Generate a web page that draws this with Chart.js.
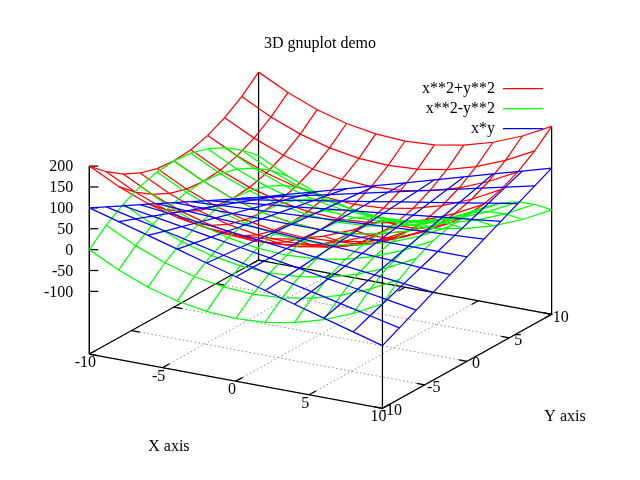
<!DOCTYPE html>
<html>
<head>
<meta charset="utf-8">
<script src="https://cdn.jsdelivr.net/npm/chart.js@4.4.1/dist/chart.umd.min.js"></script>
<style>
html,body{margin:0;padding:0;background:#ffffff;}
#wrap{width:640px;height:480px;position:relative;}
</style>
</head>
<body>
<div id="wrap"><canvas id="c" width="640" height="480"></canvas></div>
<script>
// ---- data ----
const xSamples = [-10, -8, -6, -4, -2, 0, 2, 4, 6, 8, 10];
const ySamples = [-10, -8, -6, -4, -2, 0, 2, 4, 6, 8, 10];
const seriesNames = ['x**2+y**2', 'x**2-y**2', 'x*y'];
const seriesColors = ['#ff0000', '#00ff00', '#0000ff'];
// rows: x sample index, columns: y sample index
const zSum = [
  [200,164,136,116,104,100,104,116,136,164,200],
  [164,128,100, 80, 68, 64, 68, 80,100,128,164],
  [136,100, 72, 52, 40, 36, 40, 52, 72,100,136],
  [116, 80, 52, 32, 20, 16, 20, 32, 52, 80,116],
  [104, 68, 40, 20,  8,  4,  8, 20, 40, 68,104],
  [100, 64, 36, 16,  4,  0,  4, 16, 36, 64,100],
  [104, 68, 40, 20,  8,  4,  8, 20, 40, 68,104],
  [116, 80, 52, 32, 20, 16, 20, 32, 52, 80,116],
  [136,100, 72, 52, 40, 36, 40, 52, 72,100,136],
  [164,128,100, 80, 68, 64, 68, 80,100,128,164],
  [200,164,136,116,104,100,104,116,136,164,200]
];
const zDiff = [
  [   0,  36,  64,  84,  96, 100,  96,  84,  64,  36,   0],
  [ -36,   0,  28,  48,  60,  64,  60,  48,  28,   0, -36],
  [ -64, -28,   0,  20,  32,  36,  32,  20,   0, -28, -64],
  [ -84, -48, -20,   0,  12,  16,  12,   0, -20, -48, -84],
  [ -96, -60, -32, -12,   0,   4,   0, -12, -32, -60, -96],
  [-100, -64, -36, -16,  -4,   0,  -4, -16, -36, -64,-100],
  [ -96, -60, -32, -12,   0,   4,   0, -12, -32, -60, -96],
  [ -84, -48, -20,   0,  12,  16,  12,   0, -20, -48, -84],
  [ -64, -28,   0,  20,  32,  36,  32,  20,   0, -28, -64],
  [ -36,   0,  28,  48,  60,  64,  60,  48,  28,   0, -36],
  [   0,  36,  64,  84,  96, 100,  96,  84,  64,  36,   0]
];
const zProd = [
  [ 100,  80,  60,  40,  20, 0, -20, -40, -60, -80,-100],
  [  80,  64,  48,  32,  16, 0, -16, -32, -48, -64, -80],
  [  60,  48,  36,  24,  12, 0, -12, -24, -36, -48, -60],
  [  40,  32,  24,  16,   8, 0,  -8, -16, -24, -32, -40],
  [  20,  16,  12,   8,   4, 0,  -4,  -8, -12, -16, -20],
  [   0,   0,   0,   0,   0, 0,   0,   0,   0,   0,   0],
  [ -20, -16, -12,  -8,  -4, 0,   4,   8,  12,  16,  20],
  [ -40, -32, -24, -16,  -8, 0,   8,  16,  24,  32,  40],
  [ -60, -48, -36, -24, -12, 0,  12,  24,  36,  48,  60],
  [ -80, -64, -48, -32, -16, 0,  16,  32,  48,  64,  80],
  [-100, -80, -60, -40, -20, 0,  20,  40,  60,  80, 100]
];
const xTicks = [-10, -5, 0, 5, 10];
const yTicks = [-10, -5, 0, 5, 10];
const zTicks = [-100, -50, 0, 50, 100, 150, 200];
const xRange = [-10, 10];
const yRange = [-10, 10];
const zRange = [-100, 200];
const titleText = '3D gnuplot demo';
const xLabelText = 'X axis';
const yLabelText = 'Y axis';

// ---- view (gnuplot: set view 60,30 ; ticslevel 0.5) ----
const viewRotX = 60, viewRotZ = 30, ticsLevel = 0.5;
const zBase = zRange[0] - ticsLevel * (zRange[1] - zRange[0]);
function proj(x, y, z) {
  const u = 2 * (x - xRange[0]) / (xRange[1] - xRange[0]) - 1;
  const v = 2 * (y - yRange[0]) / (yRange[1] - yRange[0]) - 1;
  const w = 2 * (z - zBase) / (zRange[1] - zBase) - 1;
  const rz = viewRotZ * Math.PI / 180, rx = viewRotX * Math.PI / 180;
  const X = Math.cos(rz) * u + Math.sin(rz) * v;
  const Yd = -Math.sin(rz) * u + Math.cos(rz) * v;
  const Y = Math.cos(rx) * Yd + Math.sin(rx) * w;
  return { x: X, y: Y };
}

const LW = 1.25;
const datasets = [];
function addLine(points, color, order, extra) {
  datasets.push(Object.assign({
    data: points, showLine: true, borderColor: color, backgroundColor: color,
    borderWidth: LW, pointRadius: 0, pointHoverRadius: 0, fill: false, tension: 0, order: order
  }, extra || {}));
}

// base grid (dotted)
xTicks.forEach(x => addLine([proj(x, yRange[0], zBase), proj(x, yRange[1], zBase)], '#8c8c8c', 6, { borderWidth: 1, borderDash: [1.5, 2.5] }));
yTicks.forEach(y => addLine([proj(xRange[0], y, zBase), proj(xRange[1], y, zBase)], '#8c8c8c', 6, { borderWidth: 1, borderDash: [1.5, 2.5] }));

// frame: base border
addLine([
  proj(xRange[0], yRange[0], zBase), proj(xRange[1], yRange[0], zBase),
  proj(xRange[1], yRange[1], zBase), proj(xRange[0], yRange[1], zBase),
  proj(xRange[0], yRange[0], zBase)
], '#000000', 5);
// z axis
addLine([proj(xRange[0], yRange[0], zBase), proj(xRange[0], yRange[0], zRange[1])], '#000000', 5);
// corner verticals up to the first surface
[[0, 0], [10, 0], [10, 10], [0, 10]].forEach(([i, j]) => {
  addLine([proj(xSamples[i], ySamples[j], zBase), proj(xSamples[i], ySamples[j], zSum[i][j])], '#000000', 5);
});
// ticks
const xTicLen = 0.8, yTicLen = 0.55, zTicLen = 0.053;
xTicks.forEach(x => {
  addLine([proj(x, yRange[0], zBase), proj(x, yRange[0] + xTicLen, zBase)], '#000000', 5);
  addLine([proj(x, yRange[1], zBase), proj(x, yRange[1] - xTicLen, zBase)], '#000000', 5);
});
yTicks.forEach(y => {
  addLine([proj(xRange[1], y, zBase), proj(xRange[1] - yTicLen, y, zBase)], '#000000', 5);
  addLine([proj(xRange[0], y, zBase), proj(xRange[0] + yTicLen, y, zBase)], '#000000', 5);
});
zTicks.forEach(z => {
  const p = proj(xRange[0], yRange[0], z);
  addLine([p, { x: p.x + zTicLen, y: p.y }], '#000000', 5);
});

// surfaces
[zSum, zDiff, zProd].forEach((Z, s) => {
  const order = 2 - s;
  xSamples.forEach((x, i) => addLine(ySamples.map((y, j) => proj(x, y, Z[i][j])), seriesColors[s], order, { label: seriesNames[s] }));
  ySamples.forEach((y, j) => addLine(xSamples.map((x, i) => proj(x, y, Z[i][j])), seriesColors[s], order, { label: seriesNames[s] }));
});

const FONT = '16px "Liberation Serif", "Times New Roman", serif';

const textPlugin = {
  id: 'gnuplotText',
  afterDraw(chart) {
    const ctx = chart.ctx, sx = chart.scales.x, sy = chart.scales.y;
    const P = (x, y, z) => { const p = proj(x, y, z); return [sx.getPixelForValue(p.x), sy.getPixelForValue(p.y)]; };
    ctx.save();
    ctx.fillStyle = '#000000';
    ctx.font = FONT;
    ctx.textBaseline = 'middle';
    // title
    ctx.textAlign = 'center';
    ctx.fillText(titleText, 320, 44);
    // z tick labels
    ctx.textAlign = 'right';
    zTicks.forEach(z => { const [px, py] = P(xRange[0], yRange[0], z); ctx.fillText(String(z), px - 16, py + 1); });
    // x tick labels
    ctx.textAlign = 'center';
    xTicks.forEach(x => { const [px, py] = P(x, yRange[0], zBase); ctx.fillText(String(x), px - 4, py + 9); });
    // y tick labels
    ctx.textAlign = 'center';
    yTicks.forEach(y => { const [px, py] = P(xRange[1], y, zBase); ctx.fillText(String(y), px + 9, py + 3); });
    // axis labels
    ctx.textAlign = 'center';
    { const [px, py] = P(0, yRange[0], zBase); ctx.fillText(xLabelText, px - 67, py + 66); }
    { const [px, py] = P(xRange[1], 0, zBase); ctx.fillText(yLabelText, px + 98, py + 56); }
    // key
    seriesNames.forEach((name, i) => {
      const ky = 88 + 20 * i;
      ctx.textAlign = 'right';
      ctx.fillStyle = '#000000';
      ctx.fillText(name, 495, ky + 1);
      ctx.strokeStyle = seriesColors[i];
      ctx.lineWidth = LW;
      ctx.beginPath();
      ctx.moveTo(503, ky + 0.5);
      ctx.lineTo(543, ky + 0.5);
      ctx.stroke();
    });
    ctx.restore();
  }
};

new Chart(document.getElementById('c'), {
  type: 'scatter',
  data: { datasets: datasets },
  options: {
    responsive: false,
    animation: false,
    events: [],
    layout: { padding: 0 },
    plugins: { legend: { display: false }, title: { display: false }, tooltip: { enabled: false } },
    scales: {
      x: { type: 'linear', display: false, bounds: 'data', min: -1.8942, max: 1.8883 },
      y: { type: 'linear', display: false, bounds: 'data', min: -2.2101, max: 2.2138 }
    }
  },
  plugins: [textPlugin]
});
</script>
</body>
</html>
